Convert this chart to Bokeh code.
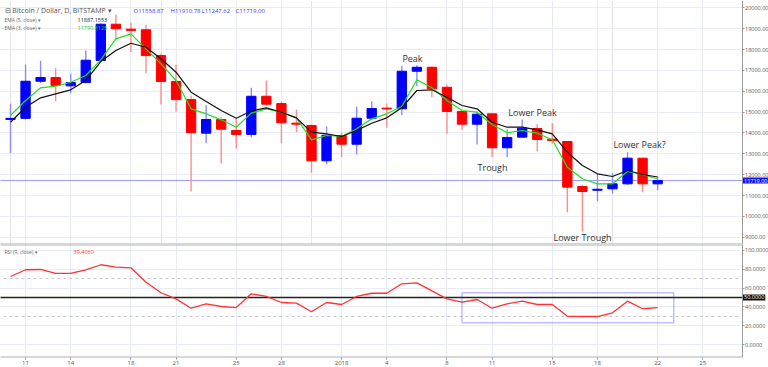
import pandas as pd
from bokeh.plotting import figure
from bokeh.layouts import column
from bokeh.models import (ColumnDataSource, Range1d, FixedTicker, Grid, Label,
                          BoxAnnotation, NumeralTickFormatter, LinearAxis)
from bokeh.embed import file_html
from bokeh.resources import INLINE

# ---------------- data ----------------
dates = pd.date_range("2017-12-10", "2018-01-22", freq="D")

opens = [14650, 14700, 16480, 16660, 16260, 16420, 17475, 19216, 18980, 18950,
         17710, 16470, 15600, 13990, 14645, 14120, 13930, 15760, 15410, 14470,
         14360, 12665, 13877, 13460, 14707, 15190, 15160, 16960, 17150, 16190,
         15030, 14420, 14918, 13290, 13800, 14213, 13700, 13590, 11430, 11250,
         11320, 11560, 12790, 11558.87]
highs = [15400, 17280, 17460, 17100, 16850, 17950, 19250, 19680, 19280, 19190,
         17800, 17280, 15800, 15330, 14750, 14680, 16165, 16515, 15510, 15125,
         14400, 14324, 14020, 15270, 15520, 15430, 17220, 17250, 17200, 16320,
         15100, 15030, 14950, 14165, 14630, 14420, 14467, 13620, 11500, 12040,
         12070, 13080, 12800, 11910.78]
lows = [13030, 14650, 16400, 15520, 15900, 16380, 17400, 18510, 17870, 16860,
        15360, 15030, 11190, 13510, 12520, 13250, 13800, 15300, 13510, 14040,
        12090, 12500, 12840, 12970, 14600, 14250, 14850, 16240, 15710, 13960,
        14165, 13446, 12840, 12840, 13780, 13110, 13500, 10200, 9270, 10730,
        11080, 11500, 11160, 11247.62]
closes = [14700, 16480, 16660, 16280, 16420, 17490, 19216, 19000, 18920, 17710,
          16470, 15600, 14020, 14645, 14180, 13930, 15760, 15380, 14490, 14420,
          12665, 13890, 13460, 14707, 15170, 15150, 16960, 17150, 16120, 15030,
          14420, 14900, 13290, 13780, 14230, 13686, 13640, 11400, 11190, 11300,
          11560, 12790, 11560, 11719.00]
ema5 = [14515, 15235, 15686, 15878, 16069, 16515, 17427, 17954, 18304, 18112,
        17556, 16914, 15954, 15508, 15077, 14707, 15050, 15206, 14995, 14726,
        14036, 13959, 13829, 14117, 14467, 14726, 15206, 16036, 16069, 15714,
        15316, 15158, 14515, 14276, 14276, 14150, 13959, 13077, 12439, 12040,
        11911, 12199, 12007, 11887.16]
ema3 = [14837, 15556, 16165, 16242, 16434, 16755, 17508, 18515, 18755, 18035,
        17316, 16515, 15158, 14918, 14630, 14276, 14950, 15158, 14995, 14726,
        13671, 13877, 13829, 14199, 14678, 14918, 15268, 16549, 16165, 15556,
        15077, 14995, 14405, 14010, 14117, 13988, 13671, 12357, 11801, 11561,
        11561, 12151, 12007, 11790.81]
rsi9 = [72.2, 79.3, 79.6, 75.4, 75.4, 79.3, 84.6, 82.0, 81.4, 66.2,
        55.0, 48.6, 38.7, 43.3, 40.5, 39.4, 53.9, 51.1, 44.7, 44.0,
        34.9, 44.7, 42.6, 51.1, 54.5, 54.5, 64.5, 65.5, 57.0, 48.6,
        45.0, 47.9, 38.7, 43.3, 46.1, 42.6, 42.6, 30.2, 29.9, 29.9,
        33.8, 46.1, 38.1, 39.406]

tick_dates = ["2017-12-11", "2017-12-14", "2017-12-18", "2017-12-21", "2017-12-25",
              "2017-12-28", "2018-01-01", "2018-01-04", "2018-01-08", "2018-01-11",
              "2018-01-15", "2018-01-18", "2018-01-22", "2018-01-25"]
tick_labels = ["11", "14", "18", "21", "25", "28", "2018", "4", "8", "11",
               "15", "18", "22", "25"]
price_ticks = [9000, 10000, 11000, 12000, 13000, 14000, 15000, 16000, 17000,
               18000, 19000, 20000]
rsi_ticks = [0, 20, 40, 60, 80, 100]
rsi_levels = [30, 70]
rsi_mid = 50
last_price = 11719.00
ohlc_text = ["O11558.87", "H11910.78", "L11247.62", "C11719.00"]

# ---------------- layout ----------------
W = 768
MAIN_H = 244
RSI_H = 123
PX_PER_DAY = 15.05
X0 = -10 / PX_PER_DAY
X1 = X0 + W / PX_PER_DAY
AXIS_PX = 741.5                      # where the price axis line sits
Y0, Y1 = 8650, 20353
R0, R1 = -13.4, 106.0
RSI_FH = 113
FONT = "Open Sans"


def sx(px):
    return X0 + px / PX_PER_DAY


def sy_main(py):
    return Y1 - py / MAIN_H * (Y1 - Y0)


def sy_rsi(py):
    return R1 - (py - MAIN_H) / RSI_FH * (R1 - R0)


XA = sx(AXIS_PX)

d0 = dates[0]
day = [(d - d0).days for d in dates]
tick_days = [(pd.Timestamp(t) - d0).days for t in tick_dates]

up = [c >= o for o, c in zip(opens, closes)]
src = ColumnDataSource(dict(
    x=day, o=opens, h=highs, l=lows, c=closes,
    top=[max(o, c) for o, c in zip(opens, closes)],
    bot=[min(o, c) for o, c in zip(opens, closes)],
    col=["#0000ff" if u else "#ff0000" for u in up],
    wick=["#8c8cff" if u else "#ff8c8c" for u in up],
))

xr = Range1d(X0, X1)

GRID_C = "#e9edf3"
AX_C = "#9a9a9a"
LBL_C = "#555555"
BORDER_C = "#b0b0b0"


def style_axis(ax, size="5.5px"):
    ax.axis_line_color = AX_C
    ax.major_tick_line_color = AX_C
    ax.major_tick_out = 2
    ax.major_tick_in = 0
    ax.minor_tick_line_color = None
    ax.major_label_standoff = 1
    ax.major_label_text_font_size = size
    ax.major_label_text_color = LBL_C
    ax.major_label_text_font = FONT


def side_box(fig, y0, y1):
    # white price-scale strip to the right of the axis line
    fig.add_layout(BoxAnnotation(left=XA, right=X1 + 5, bottom=y0, top=y1,
                                 fill_color="white", fill_alpha=1.0,
                                 line_color=None, level="glyph"))


def hline(fig, y, color, width, dash="solid", alpha=1.0):
    # horizontal rule that stops at the price-scale axis line
    fig.segment(x0=[X0 - 1], x1=[XA], y0=[y], y1=[y], line_color=color,
                line_width=width, line_dash=dash, line_alpha=alpha)


def value_tag(fig, y, text, bg):
    lab = Label(x=sx(AXIS_PX + 1), y=y, text=text, text_baseline="middle",
                text_font=FONT, text_font_size="5.5px", text_color="white",
                background_fill_color=bg, background_fill_alpha=1.0)
    try:
        lab.padding = 1
    except Exception:
        pass
    fig.add_layout(lab)


# ---------------- price pane ----------------
p = figure(width=W, height=MAIN_H, x_range=xr, y_range=Range1d(Y0, Y1),
           output_backend="svg", toolbar_location=None, x_axis_location=None,
           y_axis_location=None, min_border_left=0, min_border_right=0,
           min_border_top=0, min_border_bottom=0)
p.outline_line_color = None
p.background_fill_color = "white"
p.border_fill_color = "white"
p.add_layout(Grid(dimension=0, ticker=FixedTicker(ticks=tick_days),
                  grid_line_color=GRID_C))
p.add_layout(Grid(dimension=1, ticker=FixedTicker(ticks=price_ticks),
                  grid_line_color=GRID_C))
side_box(p, Y0 - 2000, Y1 + 2000)
hline(p, last_price, "#8c8cff", 1, alpha=0.85)
hline(p, Y0, BORDER_C, 2)

p.segment(x0="x", y0="l", x1="x", y1="h", line_color="wick", line_width=1.4, source=src)
p.vbar(x="x", width=0.62, top="top", bottom="bot", fill_color="col",
       line_color="col", line_width=1, source=src)
p.line(day, ema3, line_color="#1ee01e", line_width=1.2)
p.line(day, ema5, line_color="#111111", line_width=1.2)

pax = LinearAxis(ticker=FixedTicker(ticks=price_ticks),
                 formatter=NumeralTickFormatter(format="0.00"), fixed_location=XA)
style_axis(pax)
p.add_layout(pax, "right")

notes = [("Peak", 412, 58), ("Lower Peak", 532, 112), ("Trough", 492, 167),
         ("Lower Trough", 582, 237), ("Lower Peak?", 639, 144)]
for txt, px, py in notes:
    p.add_layout(Label(x=sx(px), y=sy_main(py), text=txt, text_align="center",
                       text_baseline="middle", text_font=FONT,
                       text_font_size="9px", text_color="#333333"))

p.add_layout(Label(x=sx(4), y=sy_main(10), text="\u229f Bitcoin / Dollar, D, BITSTAMP \u25be",
                   text_baseline="middle", text_font=FONT, text_font_size="7px",
                   text_color="#555555"))
for txt, px in zip(ohlc_text, [133, 170, 201, 235]):
    p.add_layout(Label(x=sx(px), y=sy_main(10), text=txt, text_baseline="middle",
                       text_font=FONT, text_font_size="6px", text_color="#3a3aff"))
p.add_layout(Label(x=sx(4), y=sy_main(19), text="EMA (5, close) \u25be",
                   text_baseline="middle", text_font=FONT, text_font_size="5px",
                   text_color="#666666"))
p.add_layout(Label(x=sx(77), y=sy_main(19), text="11887.1553",
                   text_baseline="middle", text_font=FONT, text_font_size="5.5px",
                   text_color="#222222"))
p.add_layout(Label(x=sx(4), y=sy_main(27), text="EMA (3, close) \u25be",
                   text_baseline="middle", text_font=FONT, text_font_size="5px",
                   text_color="#666666"))
p.add_layout(Label(x=sx(77), y=sy_main(27), text="11790.8125",
                   text_baseline="middle", text_font=FONT, text_font_size="5.5px",
                   text_color="#22cc22"))
value_tag(p, last_price, "11719.00", "#1010ff")

# ---------------- RSI pane ----------------
r = figure(width=W, height=RSI_H, x_range=xr, y_range=Range1d(R0, R1),
           output_backend="svg", toolbar_location=None, y_axis_location=None,
           min_border_left=0, min_border_right=0, min_border_top=0, min_border_bottom=0)
r.outline_line_color = None
r.background_fill_color = "white"
r.border_fill_color = "white"
r.xaxis.ticker = FixedTicker(ticks=tick_days)
r.xaxis.major_label_overrides = {d: lab for d, lab in zip(tick_days, tick_labels)}
r.xgrid.ticker = FixedTicker(ticks=tick_days)
r.xgrid.grid_line_color = GRID_C
style_axis(r.xaxis[0], "6px")
r.xaxis.axis_line_color = None
r.add_layout(Grid(dimension=1, ticker=FixedTicker(ticks=rsi_ticks),
                  grid_line_color=GRID_C))
side_box(r, R0 - 50, R1 + 50)

for lv in rsi_levels:
    hline(r, lv, "#c8c8c8", 1, dash="3 3")
hline(r, rsi_mid, "#222222", 1.5)
hline(r, R1, BORDER_C, 2)
hline(r, R0, BORDER_C, 2)

r.line(day, rsi9, line_color="#ff3333", line_width=1.3)

rax = LinearAxis(ticker=FixedTicker(ticks=rsi_ticks),
                 formatter=NumeralTickFormatter(format="0.0000"), fixed_location=XA)
style_axis(rax)
r.add_layout(rax, "right")

r.add_layout(BoxAnnotation(left=30.0, right=44.07, top=55.0, bottom=23.3,
                           fill_color=None, line_color="#2b2bff", line_width=1.5))
r.add_layout(Label(x=sx(4), y=sy_rsi(251), text="RSI (9, close) \u25be",
                   text_baseline="middle", text_font=FONT, text_font_size="5px",
                   text_color="#666666"))
r.add_layout(Label(x=sx(73), y=sy_rsi(251), text="39.4060",
                   text_baseline="middle", text_font=FONT, text_font_size="5.5px",
                   text_color="#ff3333"))
value_tag(r, rsi_mid, "50.0000", "#111111")

layout = column(p, r, spacing=0)
open("out.html", "w").write(file_html(layout, INLINE))
